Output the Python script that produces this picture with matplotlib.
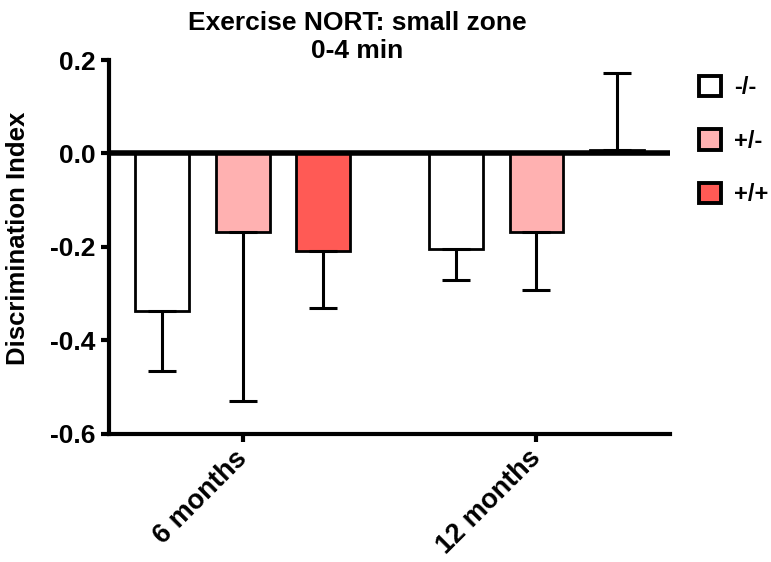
import matplotlib
matplotlib.use("Agg")
import matplotlib.pyplot as plt
from matplotlib.patches import Patch
import numpy as np

plt.rcParams['font.family'] = ['Liberation Sans', 'DejaVu Sans']
plt.rcParams['font.weight'] = 'bold'

# Discrimination index per genotype, mean and one-sided error
groups = ["6 months", "12 months"]
genotypes = ["-/-", "+/-", "+/+"]
means = {
    "-/-": [-0.337, -0.204],
    "+/-": [-0.169, -0.169],
    "+/+": [-0.210, 0.008],
}
errors = {
    "-/-": [0.128, 0.068],
    "+/-": [0.361, 0.123],
    "+/+": [0.122, 0.165],
}
colors = {"-/-": "#FFFFFF", "+/-": "#FFB1B1", "+/+": "#FF5A55"}

title_lines = ["Exercise NORT: small zone", "0-4 min"]
ylabel = "Discrimination Index"
yticks = [-0.6, -0.4, -0.2, 0.0, 0.2]

W, H = 771, 562
fig = plt.figure(figsize=(W / 100, H / 100), dpi=100)
ax = fig.add_axes([0.142, 0.2286, 0.727, 0.6644])

group_gap = 3.65
bar_step = 1.0
width = 0.67
lw_axis = 3.0
lw_bar = 2.0

for gi, g in enumerate(genotypes):
    xs = np.arange(len(groups)) * group_gap + (gi - 1) * bar_step
    vals = np.array(means[g])
    errs = np.array(errors[g])
    ax.bar(xs, vals, width=width, color=colors[g], edgecolor="black",
           linewidth=lw_bar, zorder=2)
    # error bars extend away from zero only
    lower = np.where(vals < 0, errs, 0)
    upper = np.where(vals >= 0, errs, 0)
    ax.errorbar(xs, vals, yerr=[lower, upper], fmt="none", ecolor="black",
                elinewidth=2.2, capsize=10, capthick=2.2, zorder=3)

ax.axhline(0, color="black", linewidth=4.0, zorder=4)

ax.set_xlim(-1.658, 5.31)
ax.set_ylim(-0.6, 0.2)
ax.set_yticks(yticks)
ax.set_yticklabels([f"{t:.1f}" for t in yticks])
ax.set_xticks(np.arange(len(groups)) * group_gap)
ax.set_xticklabels(groups, rotation=45, ha="right", va="center",
                   rotation_mode="anchor", fontsize=19.5)

for side in ["top", "right"]:
    ax.spines[side].set_visible(False)
for side in ["left", "bottom"]:
    ax.spines[side].set_linewidth(lw_axis)
ax.tick_params(axis="both", width=lw_axis, length=6)
ax.tick_params(axis="y", pad=4, labelsize=19)
ax.tick_params(axis="x", pad=9)

fig.text(18 / W, 1 - 238 / H, ylabel, rotation=90, ha="center", va="center",
         fontsize=18.5, fontweight="bold")

for line, base in zip(title_lines, [30.5, 58.5]):
    fig.text(357 / W, 1 - base / H, line, ha="center", va="baseline",
             fontsize=19, fontweight="bold")

handles = [Patch(facecolor=colors[g], edgecolor="black", linewidth=2.8, label=g)
           for g in genotypes]
fig.legend(handles=handles, loc="upper left",
           bbox_to_anchor=(699 / W, 1 - 76 / H),
           frameon=False, fontsize=17, handlelength=0.95, handleheight=0.95,
           labelspacing=1.27, handletextpad=0.55, borderaxespad=0, borderpad=0)

fig.savefig("out.png", dpi=100)
